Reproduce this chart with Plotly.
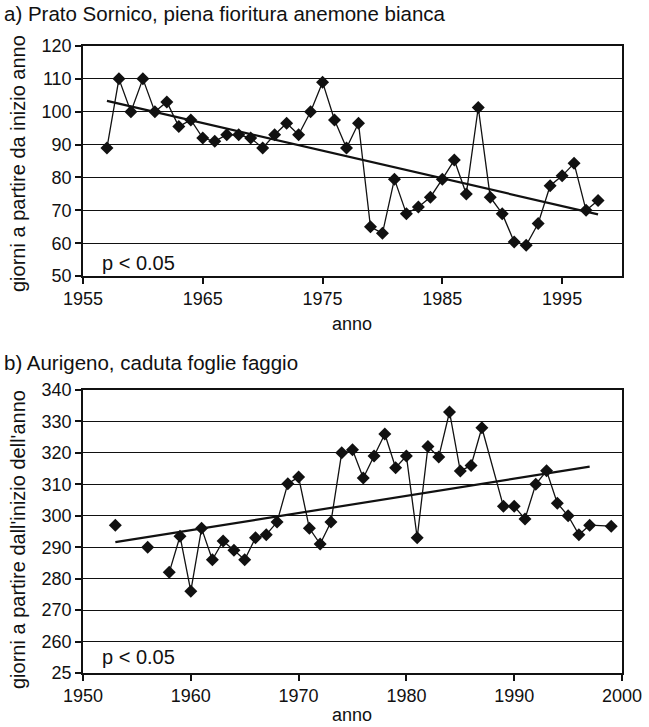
import plotly.graph_objects as go

# ---- a) Prato Sornico, piena fioritura anemone bianca ----
years_a = list(range(1957, 1999))
days_a = [89, 110, 100, 110, 100, 103, 95.5, 97.5, 92, 91,
          93, 93, 92, 89, 93, 96.5, 93, 100, 109, 97.5,
          89, 96.5, 65, 63, 79.5, 69, 71, 74, 79.5, 85.3,
          75, 101.3, 74, 69, 60.4, 59.4, 66, 77.5, 80.5, 84.3,
          70, 73]
trend_years_a = [1957, 1998]
trend_days_a = [103.3, 68.8]

# ---- b) Aurigeno, caduta foglie faggio ----
years_b = [1953, 1954, 1955, 1956, 1957, 1958, 1959, 1960, 1961, 1962,
           1963, 1964, 1965, 1966, 1967, 1968, 1969, 1970, 1971, 1972,
           1973, 1974, 1975, 1976, 1977, 1978, 1979, 1980, 1981, 1982,
           1983, 1984, 1985, 1986, 1987, 1989, 1990, 1991, 1992, 1993,
           1994, 1995, 1996, 1997, 1999]
days_b = [297, None, None, 290, None, 282, 293.5, 276, 296, 286,
          292, 289, 286, 293, 294, 298, 310.2, 312.3, 296, 291,
          298, 320, 321, 312, 319, 326, 315.3, 319, 293, 322,
          318.7, 333, 314.2, 316, 328, 303, 303, 299, 310, 314.3,
          304, 300, 294, 297, 296.7]
trend_years_b = [1953, 1997]
trend_days_b = [291.6, 315.6]

yticks_b = [250, 260, 270, 280, 290, 300, 310, 320, 330, 340]
yticktext_b = ["25", "260", "270", "280", "290", "300", "310", "320", "330", "340"]

FONT = "Liberation Sans, Arial, sans-serif"
BLACK = "#111111"

fig = go.Figure()

for xs, ys, xa, ya in [(years_a, days_a, "x", "y"), (years_b, days_b, "x2", "y2")]:
    fig.add_trace(go.Scatter(
        x=xs, y=ys, mode="lines+markers", connectgaps=False,
        line=dict(color=BLACK, width=1.3),
        marker=dict(symbol="diamond", size=10, color=BLACK),
        xaxis=xa, yaxis=ya, showlegend=False,
    ))

for xs, ys, xa, ya in [(trend_years_a, trend_days_a, "x", "y"),
                       (trend_years_b, trend_days_b, "x2", "y2")]:
    fig.add_trace(go.Scatter(
        x=xs, y=ys, mode="lines", line=dict(color=BLACK, width=2.2),
        xaxis=xa, yaxis=ya, showlegend=False,
    ))

axis_common = dict(
    showline=True, linecolor=BLACK, linewidth=1.5, mirror=True,
    ticks="outside", ticklen=6, tickwidth=1.5, tickcolor=BLACK,
    tickfont=dict(size=18, color=BLACK, family=FONT),
    zeroline=False, automargin=False,
)

fig.update_layout(
    width=649, height=727,
    margin=dict(l=83, r=27, t=46, b=54, autoexpand=False),
    paper_bgcolor="white", plot_bgcolor="white",
    font=dict(family=FONT, color=BLACK),
    xaxis=dict(range=[1955, 2000], tickvals=[1955, 1965, 1975, 1985, 1995],
               showgrid=False, anchor="y", domain=[0, 1], **axis_common),
    yaxis=dict(range=[50, 120], dtick=10, showgrid=True, gridcolor=BLACK,
               gridwidth=1.2, anchor="x", domain=[0.633, 1.0], **axis_common),
    xaxis2=dict(range=[1950, 2000], dtick=10, showgrid=False, anchor="y2",
                domain=[0, 1], **axis_common),
    yaxis2=dict(range=[250, 340], tickvals=yticks_b, ticktext=yticktext_b,
                showgrid=True, gridcolor=BLACK, gridwidth=1.2, anchor="x2",
                domain=[0, 0.4514], **axis_common),
)

def px_x(p):
    return (p - 83) / 539

def px_y(p):
    return (673 - p) / 627

texts = [
    ("a) Prato Sornico, piena fioritura anemone bianca", 2, 13, "left", 0, 20.5),
    ("anno", 352, 324, "center", 0, 18),
    ("p < 0.05", 100, 263, "left", 0, 20),
    ("b) Aurigeno, caduta foglie faggio", 2, 362, "left", 0, 20.5),
    ("anno", 352, 715, "center", 0, 18),
    ("p < 0.05", 100, 657, "left", 0, 20),
    ("giorni a partire da inizio anno", 18, 164, "center", -90, 20),
    ("giorni a partire dall'inizio dell'anno", 18, 540, "center", -90, 20),
]
for text, x, y, anchor, angle, size in texts:
    fig.add_annotation(
        text=text, xref="paper", yref="paper", x=px_x(x), y=px_y(y),
        xanchor=anchor, yanchor="middle", showarrow=False, textangle=angle,
        font=dict(size=size, color=BLACK, family=FONT),
    )

# drop the browser's default 8px body margin so the figure sits at (0, 0)
fig.write_html("out.html", config={"displayModeBar": False},
               post_script="document.body.style.margin = '0';")
